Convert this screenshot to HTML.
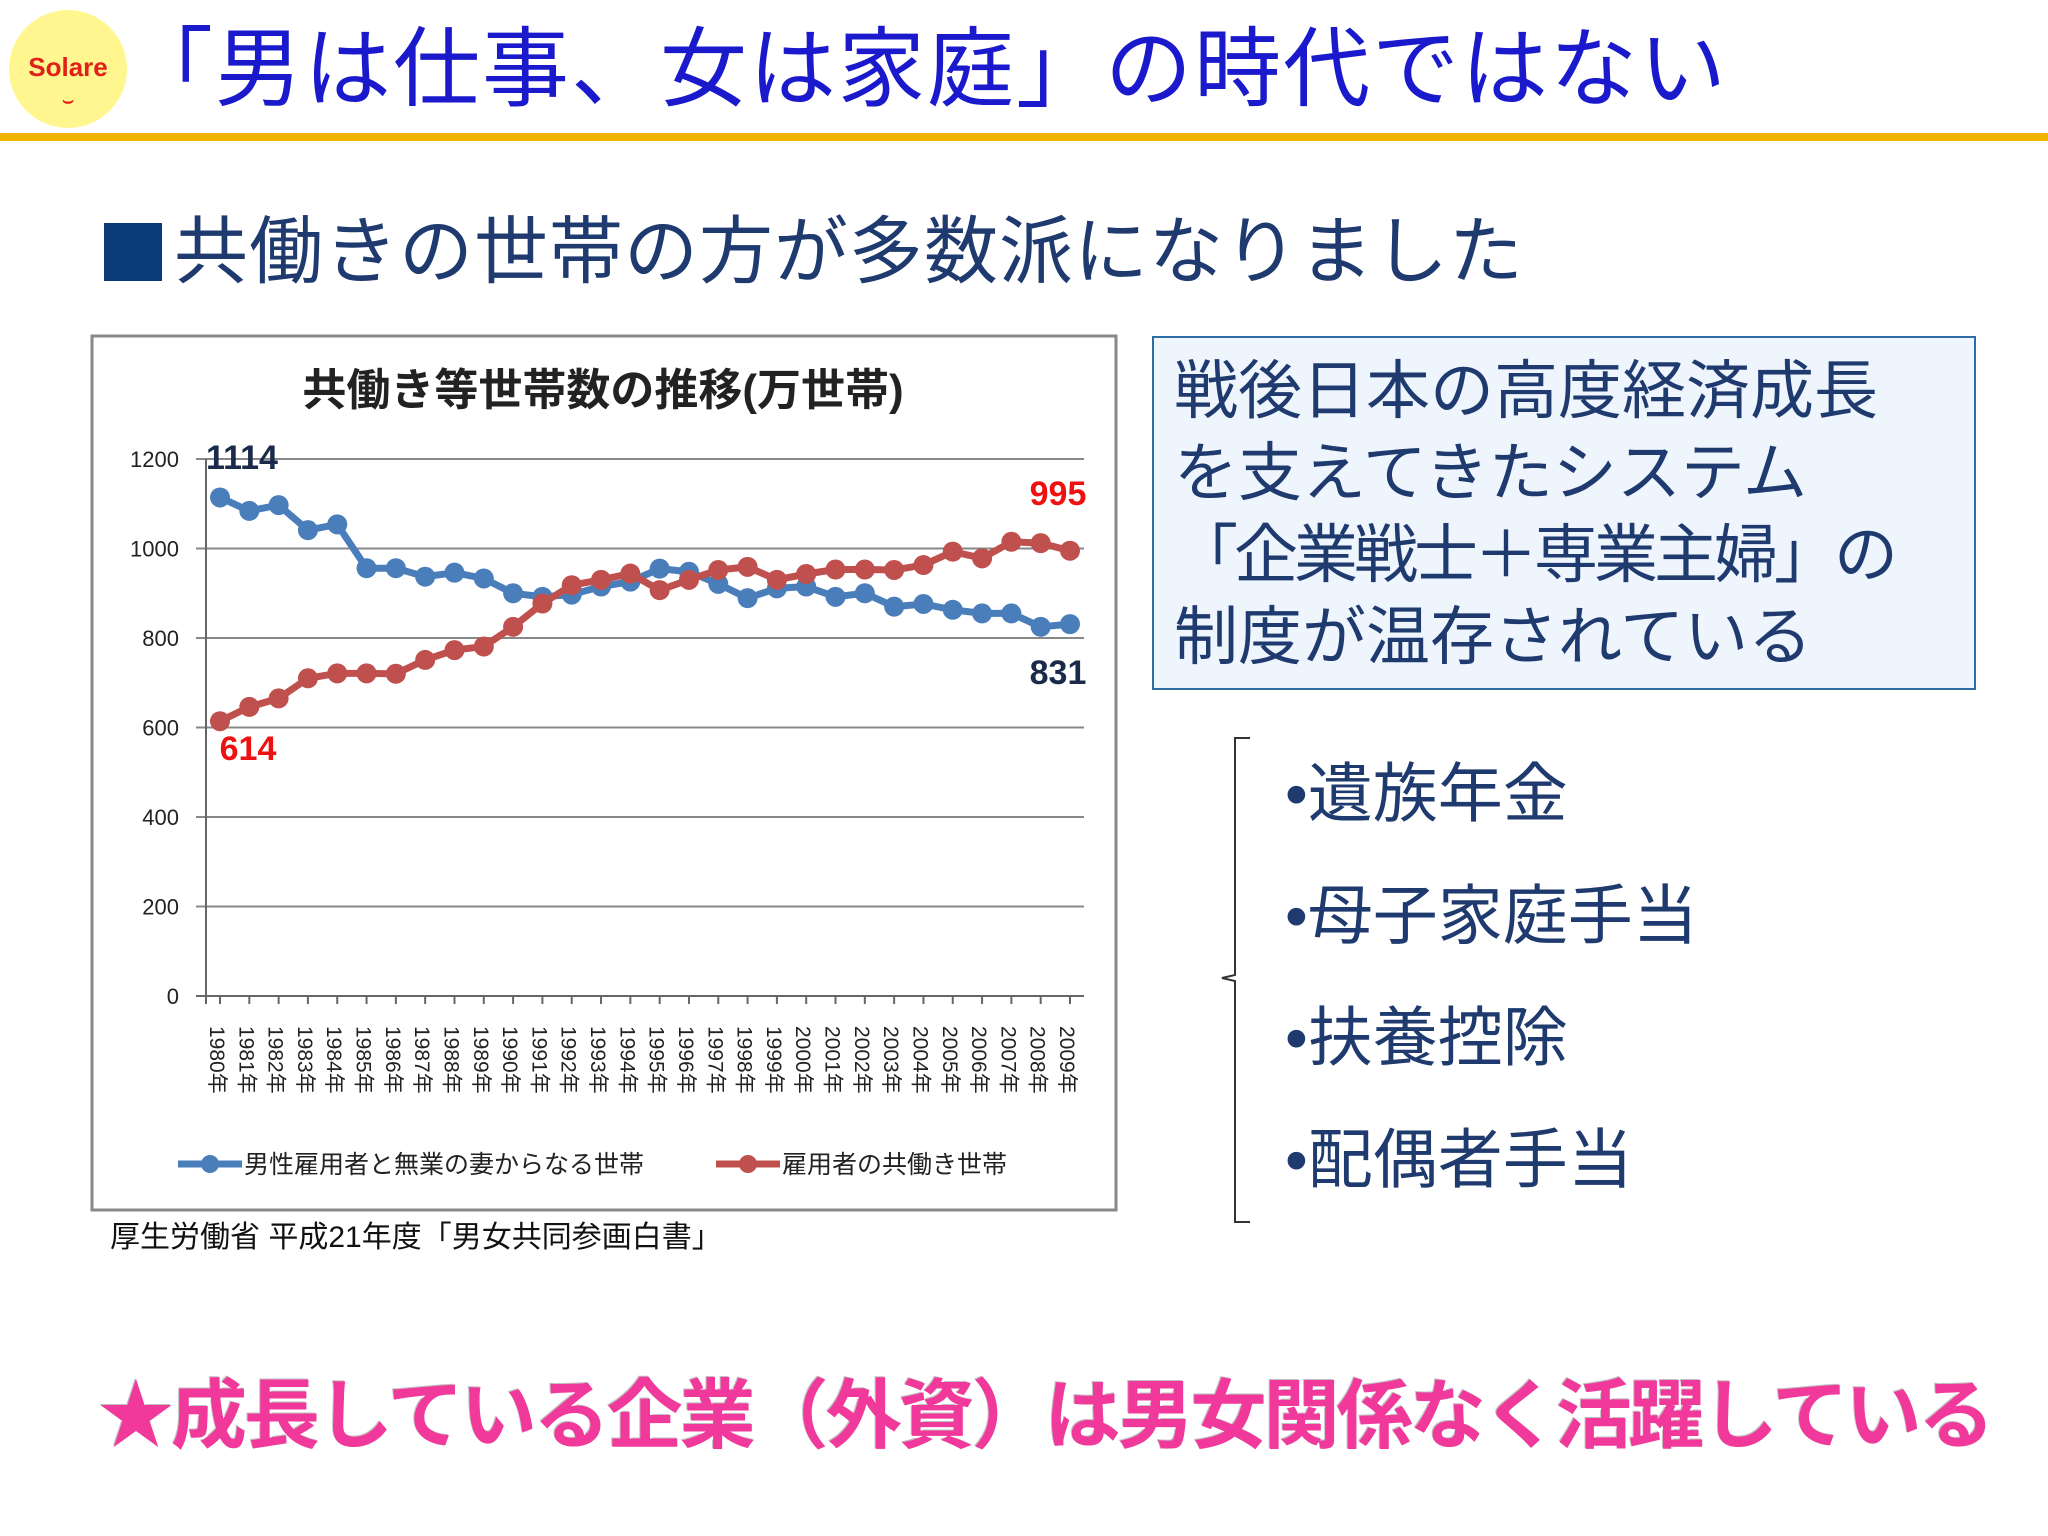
<!DOCTYPE html>
<html><head><meta charset="utf-8">
<style>
body{margin:0;width:2048px;height:1536px;background:#fff;position:relative;overflow:hidden;font-family:"Liberation Sans","Noto Sans CJK JP",sans-serif;}
.abs{position:absolute;white-space:nowrap;}
</style></head><body>
<div class="abs" style="left:9px;top:10px;width:118px;height:118px;border-radius:50%;background:#fff68f;"></div>
<div class="abs" style="left:9px;top:52px;width:118px;text-align:center;color:#e0201a;font-weight:bold;font-size:26px;line-height:30px;">Solare<br><span style="font-size:18px;line-height:10px;">⌣</span></div>
<div class="abs" style="left:126px;top:20px;font-size:87px;line-height:100px;color:#1a1acc;letter-spacing:2px;">「男は仕事、女は家庭」の時代ではない</div>
<div class="abs" style="left:0;top:133px;width:2048px;height:8px;background:#f0b400;"></div>
<div class="abs" style="left:104px;top:207px;font-size:74px;line-height:90px;color:#1f3a6e;letter-spacing:1px;"><span style="display:inline-block;width:58px;height:58px;background:#0b3a78;margin-right:12px;vertical-align:-4px;"></span>共働きの世帯の方が多数派になりました</div>

<svg class="abs" style="left:0;top:0" width="2048" height="1536" id="chart">
<rect x="92" y="336" width="1024" height="874" fill="#fff" stroke="#888" stroke-width="3"/>
<text x="603" y="405" text-anchor="middle" font-size="44" font-weight="bold" fill="#222" font-family="Liberation Sans,Noto Sans CJK JP,sans-serif">共働き等世帯数の推移(万世帯)</text>
<g id="grid"></g><g id="lines"></g><g id="labels"></g>
</svg>

<div class="abs" style="left:110px;top:1220px;font-size:30px;line-height:36px;color:#111;">厚生労働省 平成21年度「男女共同参画白書」</div>

<div class="abs" style="left:1152px;top:336px;width:820px;height:350px;background:#eef5fc;border:2px solid #2e6da4;"></div>
<div class="abs" style="left:1174px;top:350px;font-size:64px;line-height:82px;color:#1f3a6e;">戦後日本の高度経済成長<br>を支えてきたシステム<br><span style="letter-spacing:-4px;">「企業戦士＋専業主婦」の</span><br>制度が温存されている</div>

<svg class="abs" style="left:1210px;top:735px" width="50" height="490"><path d="M40 3 H25 V240 L12 243 L25 246 V487 H40" fill="none" stroke="#333" stroke-width="2"/></svg>
<div class="abs" style="left:1285px;top:733px;font-size:65px;line-height:122px;color:#1f3a6e;">•遺族年金<br>•母子家庭手当<br>•扶養控除<br>•配偶者手当</div>

<div class="abs" style="left:98px;top:1372px;font-size:76px;line-height:90px;color:#f0399a;font-weight:bold;letter-spacing:-3px;text-shadow:2px 2px 0 #fff,-1px -1px 0 #c0c0c0;">★成長している企業（外資）は男女関係なく活躍している</div>

<script>
const years=[];for(let y=1980;y<=2009;y++)years.push(y);
const singleIncome=[1114,1084,1097,1041,1054,956,956,937,946,933,900,892,897,915,926,955,948,921,889,911,915,892,900,870,876,863,855,855,825,831];
const dualIncome=[614,646,665,710,721,721,720,751,773,781,825,877,918,930,944,907,930,952,959,930,943,953,953,952,963,993,978,1015,1012,995];
const yTicks=[0,200,400,600,800,1000,1200];
const X0=206,X1=1084,Y0=996,Y1=459;
const sx=i=>220+i*(1070-220)/(years.length-1);
const sy=v=>Y0-(v/1200)*(Y0-Y1);
const NS='http://www.w3.org/2000/svg';
function mk(tag,attrs,parent,txt){const e=document.createElementNS(NS,tag);for(const k in attrs)e.setAttribute(k,attrs[k]);if(txt!==undefined)e.textContent=txt;parent.appendChild(e);return e;}
const grid=document.getElementById('grid'),lines=document.getElementById('lines'),labels=document.getElementById('labels');
yTicks.forEach(t=>{
  const l=mk('line',{x1:X0-10,x2:X1,y1:sy(t),y2:sy(t),stroke:t===0?'#666':'#888','stroke-width':2},grid);
  
  
  const tx=mk('text',{x:179,y:sy(t)+8,'text-anchor':'end','font-size':22,fill:'#222','font-family':'Liberation Sans,sans-serif'},grid,String(t));
  
  
});
mk('line',{x1:X0,x2:X0,y1:Y1,y2:Y0+8,stroke:'#666','stroke-width':2},grid);
years.forEach((y,i)=>{
  const x=sx(i);
  mk('line',{x1:x,x2:x,y1:Y0,y2:Y0+8,stroke:'#666','stroke-width':2},grid);
  const t=mk('text',{x:0,y:0,transform:`translate(${x-10},1026) rotate(90)`,'font-size':21,fill:'#222','font-family':'Liberation Sans,Noto Sans CJK JP,sans-serif'},grid,y+'年');
  
  
});
function series(vals,color,name){
  const p=mk('polyline',{points:vals.map((v,i)=>sx(i)+','+sy(v)).join(' '),fill:'none',stroke:color,'stroke-width':7},lines);
  
  
  vals.forEach((v,i)=>{
    const c=mk('circle',{cx:sx(i),cy:sy(v),r:10,fill:color},lines);
    
    
  });
}
series(singleIncome,'#4a7ebb','single-income');
series(dualIncome,'#c0504d','dual-income');
function lab(x,y,txt,color,name){const t=mk('text',{x:x,y:y,'font-size':34,'font-weight':'bold',fill:color,'font-family':'Liberation Sans,sans-serif','text-anchor':'middle'},labels,txt);
  
  }
lab(242,469,String(singleIncome[0]),'#1a2a4a','label-single-start');
lab(1058,505,String(dualIncome[dualIncome.length-1]),'#ee1111','label-dual-end');
lab(1058,684,String(singleIncome[singleIncome.length-1]),'#1a2a4a','label-single-end');
lab(248,760,String(dualIncome[0]),'#ee1111','label-dual-start');
function leg(x,color,txt,name){
  const g=mk('g',{},labels);
  
  
  mk('line',{x1:x,x2:x+64,y1:1164,y2:1164,stroke:color,'stroke-width':7},g);
  mk('circle',{cx:x+32,cy:1164,r:9,fill:color},g);
  mk('text',{x:x+66,y:1173,'font-size':25,fill:'#222','font-family':'Liberation Sans,Noto Sans CJK JP,sans-serif'},g,txt);
}
leg(178,'#4a7ebb','男性雇用者と無業の妻からなる世帯','legend-single-income');
leg(716,'#c0504d','雇用者の共働き世帯','legend-dual-income');
</script>
</body></html>
